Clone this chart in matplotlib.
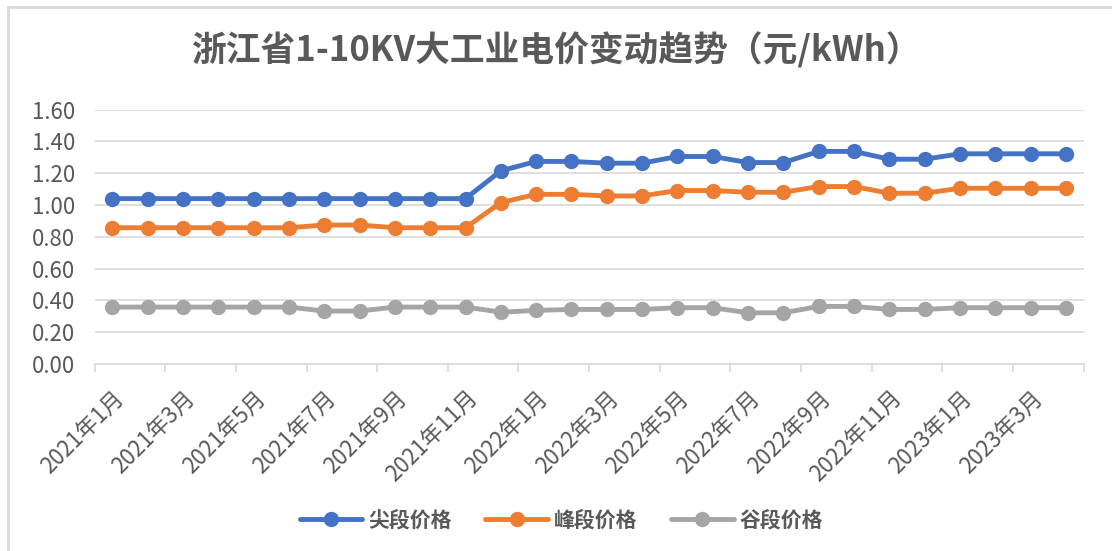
import numpy as np
import matplotlib.pyplot as plt
from matplotlib.lines import Line2D

plt.rcParams["font.family"] = ["Noto Sans CJK SC", "DejaVu Sans"]

TEXT_COLOR = "#595959"

# months Jan 2021 .. Apr 2023
months = [f"{y}年{m}月" for y in (2021, 2022, 2023) for m in range(1, 13)][:28]

peak_top = [1.04, 1.04, 1.04, 1.04, 1.04, 1.04, 1.04, 1.04, 1.04, 1.04, 1.04,
            1.215, 1.274, 1.274, 1.263, 1.263, 1.305, 1.305, 1.267, 1.267,
            1.337, 1.337, 1.288, 1.288, 1.322, 1.322, 1.322, 1.322]
peak = [0.857, 0.857, 0.857, 0.857, 0.857, 0.857, 0.874, 0.874, 0.857, 0.857,
        0.857, 1.015, 1.067, 1.067, 1.057, 1.057, 1.091, 1.091, 1.08, 1.08,
        1.116, 1.116, 1.074, 1.074, 1.105, 1.105, 1.105, 1.105]
valley = [0.358, 0.358, 0.358, 0.358, 0.358, 0.358, 0.333, 0.333, 0.358, 0.358,
          0.358, 0.326, 0.337, 0.343, 0.343, 0.343, 0.354, 0.354, 0.322, 0.322,
          0.362, 0.362, 0.343, 0.343, 0.354, 0.354, 0.354, 0.354]

series = [
    ("尖段价格", peak_top, "#4472C4"),
    ("峰段价格", peak, "#ED7D31"),
    ("谷段价格", valley, "#A5A5A5"),
]

fig = plt.figure(figsize=(11.12, 5.51), dpi=100)
ax = fig.add_axes([0.0851, 0.3394, 0.8894, 0.4617])

x = np.arange(len(months))
for name, vals, color in series:
    ax.plot(x, vals, color=color, lw=3.5, marker="o", ms=10,
            solid_capstyle="round", label=name)

ax.set_xlim(-0.5, len(months) - 0.5)
ax.set_ylim(0, 1.6)
ax.set_yticks(np.arange(0, 1.61, 0.2))
ax.set_yticklabels([f"{v:.2f}" for v in np.arange(0, 1.61, 0.2)])
ax.grid(True, axis="y", color="#D9D9D9", lw=1.2)
ax.set_axisbelow(True)

ax.set_xticks(x[::2])
ax.set_xticklabels(months[::2], rotation=45, ha="right",
                   rotation_mode="anchor")
ax.set_xticks(np.arange(-0.5, len(months), 2), minor=True)
ax.tick_params(axis="x", which="major", length=0, pad=16,
               labelsize=16, labelcolor=TEXT_COLOR)
ax.tick_params(axis="x", which="minor", length=6, color="#D9D9D9", width=1.2)
ax.tick_params(axis="y", length=0, pad=14, labelsize=16,
               labelcolor=TEXT_COLOR)
for lab in ax.get_yticklabels():
    lab.set_fontweight("medium")

for side in ("top", "right", "left"):
    ax.spines[side].set_visible(False)
ax.spines["bottom"].set_color("#D9D9D9")
ax.spines["bottom"].set_linewidth(1.2)

fig.text(0.5, 0.909, "浙江省1-10KV大工业电价变动趋势（元/kWh）",
         ha="center", va="center", fontsize=25, fontweight="bold",
         color=TEXT_COLOR)

fig.legend(loc="center", bbox_to_anchor=(0.505, 0.056), ncol=3,
           frameon=False, handlelength=3.0, handletextpad=0.3,
           columnspacing=1.6, labelcolor=TEXT_COLOR,
           prop={"weight": "bold", "size": 15})

# chart frame (top and left edges visible in the crop)
fig.add_artist(Line2D([0.0072, 0.0072], [0, 0.9882], color="#D9D9D9",
                      lw=2, transform=fig.transFigure))
fig.add_artist(Line2D([0.0072, 1.0], [0.9882, 0.9882], color="#D9D9D9",
                      lw=2, transform=fig.transFigure))

fig.savefig("out.png", dpi=100)
